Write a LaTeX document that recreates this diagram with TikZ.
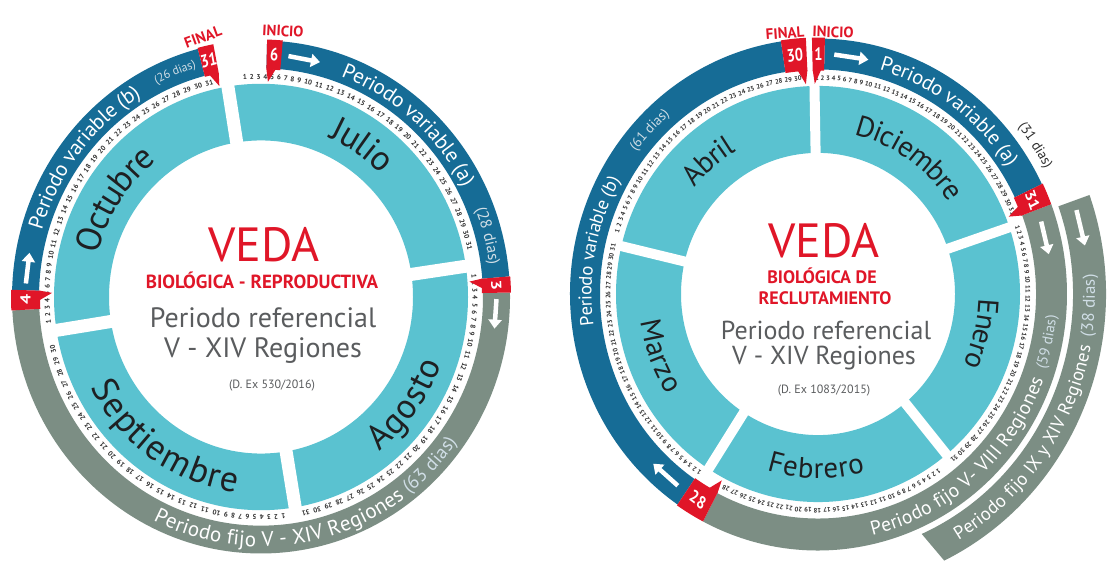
\documentclass[tikz,border=0pt]{standalone}
\usepackage{fontspec}
\setmainfont{PT Sans}
\usetikzlibrary{decorations.text,arrows.meta}
\definecolor{turq}{RGB}{90,194,208}
\definecolor{bandblue}{RGB}{22,108,150}
\definecolor{bandgray}{RGB}{124,142,132}
\definecolor{vred}{RGB}{224,22,40}
\definecolor{txtgray}{RGB}{90,92,94}
\definecolor{monthtxt}{RGB}{30,32,34}
\definecolor{numtxt}{RGB}{45,45,45}
\definecolor{dias}{RGB}{208,222,230}
\tikzset{
 daynum/.style={font=\fontsize{7}{7}\selectfont\bfseries, text=numtxt, inner sep=0pt},
 mknum/.style={font=\fontsize{18}{18}\selectfont\bfseries, text=white, inner sep=0pt, xscale=0.8},
 warrow/.style={white, line width=4.5pt, -{Triangle[length=9pt,width=13pt]}},
 lbl/.style={font=\fontsize{15}{15}\selectfont\bfseries, text=vred, inner sep=0pt},
 bigred/.style={font=\fontsize{48}{48}\selectfont, text=vred, inner sep=0pt},
 subred/.style={font=\fontsize{19}{19}\selectfont\bfseries, text=vred, inner sep=0pt},
 refgray/.style={font=\fontsize{28}{28}\selectfont, text=txtgray, inner sep=0pt},
 decgray/.style={font=\fontsize{12}{12}\selectfont, text=txtgray, inner sep=0pt},
}
\newcommand{\ringseg}[5]{\fill[#1] (#2:#4) arc[start angle=#2, end angle=#3, radius=#4] -- (#3:#5) arc[start angle=#3, end angle=#2, radius=#5] -- cycle;}
\newcommand{\mkbox}[4]{\fill[vred] (#1:#3) -- (#1:#4) arc[start angle=#1, end angle=#2, radius=#4] -- (#2:#3) arc[start angle=#2, end angle=#1, radius=#3] -- cycle;}
\newcommand{\mktri}[5]{\fill[vred] (#1:#4) -- (#2:#4) -- (#3:#5) -- cycle;}
\newcommand{\daynums}[5]{%
 \pgfmathsetmacro{\dW}{((#1)-(#2))/(14+((#3)-10)*2.5)}%
 \foreach \d in {1,...,#3}{%
   \pgfmathsetmacro{\dA}{(#1)-((\d<10) ? ((\d-1)*1.5) : (14+(\d-10)*2.5))*\dW}%
   \node[daynum, rotate=\dA-90] (#5\d) at (\dA:#4) {\d};
 }}
\newcommand{\bandtext}[5]{\path[decorate, decoration={text along path, #1, text={#5}}] (#2:#4) arc[start angle=#2, end angle=#3, radius=#4];}
\begin{document}
\begin{tikzpicture}[x=1pt,y=1pt]
\useasboundingbox (0,0) rectangle (1113,565);
\fill[white] (0,0) rectangle (1113,565);

%%%%%%%%%%%%%%%% LEFT CIRCLE
\begin{scope}[shift={(261,268)}, y=1.03pt]
\fill[turq, even odd rule] (0:207) arc[start angle=0, end angle=360, radius=207] -- cycle (0:152) arc[start angle=0, end angle=360, radius=152] -- cycle;
\foreach \g in {99.2,8.3,-80.5,189} \draw[white, line width=13pt] (\g:140) -- (\g:209);
\ringseg{bandblue}{88.6}{4.6}{222}{249}
\ringseg{bandgray}{1}{-177}{222}{249}
\ringseg{bandblue}{178.4}{104.7}{222}{249}
\daynums{94.3}{13.4}{31}{214}{jul}
\daynums{5.4}{-77.9}{31}{214}{ago}
\daynums{-84}{-166.3}{30}{214}{sep}
\daynums{186.5}{104}{31}{214}{oct}
\mkbox{88.6}{85}{221}{250} \mktri{88.6}{86.2}{88.1}{221.5}{209}
\node[mknum, rotate=-3.2] (m6) at (86.8:235.5) {6};
\mkbox{104.7}{101}{221}{250} \mktri{101}{103.4}{101.5}{221.5}{209}
\node[mknum, rotate=12.85] (m31L) at (102.85:235.5) {31};
\mkbox{4.6}{1}{221}{250} \mktri{4.6}{2.2}{4.1}{221.5}{209}
\node[mknum, rotate=-87.2] (m3) at (2.8:235.5) {3};
\mkbox{183}{178.4}{221}{250} \mktri{178.4}{180.8}{178.9}{221.5}{209}
\node[mknum, rotate=90.7] (m4) at (180.7:235.5) {4};
\draw[warrow] (83.3:235.5) -- (75.5:235.5);
\draw[warrow] (-0.5:235.5) -- (-7.5:235.5);
\draw[warrow] (176.8:235.5) -- (169.5:235.5);
\bandtext{text color=white, raise=-7pt}{69.5}{0}{235.5}{|\fontsize{21}{21}\selectfont|Periodo variable (a)}
\bandtext{text color=dias, raise=-5pt}{21.5}{-20}{235.5}{|\fontsize{16}{16}\selectfont|(28 dias)}
\bandtext{text color=white, raise=-7pt}{163.5}{90}{235.5}{|\fontsize{21}{21}\selectfont|Periodo variable (b)}
\bandtext{text color=dias, raise=-4pt}{116.8}{80}{235.5}{|\fontsize{12}{12}\selectfont|(26 dias)}
\bandtext{text color=white, raise=-7pt}{-116.4}{-20}{235.5}{|\fontsize{21}{21}\selectfont|Periodo fijo V - XIV Regiones}
\bandtext{text color=dias, raise=-6pt}{-52.3}{0}{235.5}{|\fontsize{19}{19}\selectfont|(63 dias)}
\bandtext{text align=center, text color=monthtxt, raise=-11.5pt}{95.8}{15.8}{180}{|\fontsize{35}{35}\selectfont|Julio}
\bandtext{text align=center, text color=monthtxt, raise=-11.5pt}{196.6}{96.6}{180}{|\fontsize{35}{35}\selectfont|Octubre}
\bandtext{text align=center, text color=monthtxt, raise=-11.5pt}{-184.6}{-64.6}{180}{|\fontsize{36}{36}\selectfont|Septiembre}
\bandtext{text align=center, text color=monthtxt, raise=-11.5pt}{-86.3}{13.7}{180}{|\fontsize{35}{35}\selectfont|Agosto}
\end{scope}

\node[lbl, rotate=20] (finL) at (203,528) {FINAL};
\node[lbl, rotate=-3] (iniL) at (283,534) {INICIO};
\node[bigred] (vedaL) at (264,320) {VEDA};
\node[subred] (bioL) at (262,285) {BIOLÓGICA - REPRODUCTIVA};
\node[refgray] (refL) at (263,247) {Periodo referencial};
\node[refgray] (regL) at (263,214) {V - XIV Regiones};
\node[decgray] (decL) at (272,179) {(D. Ex 530/2016)};

%%%%%%%%%%%%%%%% RIGHT CIRCLE
\begin{scope}[shift={(818,271)}, y=1.03pt, daynum/.style={font=\fontsize{6.5}{6.5}\selectfont\bfseries, text=numtxt, inner sep=0pt}]
\fill[turq, even odd rule] (0:202) arc[start angle=0, end angle=360, radius=202] -- cycle (0:137) arc[start angle=0, end angle=360, radius=137] -- cycle;
\foreach \g in {91,18.7,-50.5,-122.8,166.7} \draw[white, line width=10pt] (\g:125) -- (\g:205);
\ringseg{bandblue}{235.5}{98.6}{218}{248}
\ringseg{bandblue}{88.4}{25.5}{218}{248}
\ringseg{bandgray}{20.5}{-117.5}{218}{249}
\fill[bandgray] (19.5:255) arc[start angle=19.5, end angle=-66, radius=255] -- (-64:288) arc[start angle=-64, end angle=19.5, radius=288] -- cycle;
\daynums{90.3}{22.5}{31}{210}{dic}
\daynums{18}{-49.5}{31}{210}{ene}
\daynums{-55}{-116}{28}{210}{feb}
\daynums{-124.5}{-192.5}{31}{210}{mar}
\daynums{163}{95.5}{30}{210}{abr}
\mkbox{98.6}{92.8}{217}{249} \mktri{92.8}{95.3}{93.4}{217.5}{204}
\node[mknum, rotate=5.7] (m30) at (95.7:233) {30};
\mkbox{91.4}{88.4}{217}{249} \mktri{91.4}{89.2}{90.9}{217.5}{204}
\node[mknum, rotate=0] (m1) at (89.9:233) {1};
\mkbox{25.5}{20.5}{217}{249} \mktri{20.5}{23}{21.5}{217.5}{205}
\node[mknum, rotate=-67] (m31R) at (23:233) {31};
\mkbox{-117.5}{-124.5}{217}{249} \mktri{-117.5}{-120}{-118}{217.5}{205}
\node[mknum, rotate=-31] (m28) at (-121:233) {28};
\draw[warrow] (86:233) -- (77.5:233);
\draw[warrow] (17.5:234) -- (9.5:234);
\draw[warrow] (17.5:271) -- (10:271);
\draw[warrow] (-127:233) -- (-135:233);
\bandtext{text color=white, raise=-7pt}{74.2}{0}{233}{|\fontsize{20.5}{20.5}\selectfont|Periodo variable (a)}
\bandtext{text color=numtxt, raise=-4.5pt}{39}{0}{262}{|\fontsize{14}{14}\selectfont|(31 dias)}
\bandtext{text color=white, raise=-6.5pt}{187.8}{120}{233}{|\fontsize{18.5}{18.5}\selectfont|Periodo variable (b)}
\bandtext{text color=dias, raise=-4.5pt}{142.8}{100}{233}{|\fontsize{14}{14}\selectfont|(61 dias)}
\bandtext{text color=white, raise=-6.5pt}{-77}{0}{234}{|\fontsize{19.5}{19.5}\selectfont|Periodo fijo V- VIII Regiones}
\bandtext{text color=dias, raise=-5pt}{-18}{20}{234}{|\fontsize{15}{15}\selectfont|(59 dias)}
\bandtext{text color=white, raise=-6.5pt}{-59.6}{10}{271}{|\fontsize{18.5}{18.5}\selectfont|Periodo fijo IX y XIV Regiones}
\bandtext{text color=dias, raise=-6pt}{-8.7}{25}{271}{|\fontsize{17}{17}\selectfont|(38 dias)}
\bandtext{text align=center, text color=monthtxt, raise=-9.5pt}{105.8}{5.8}{168}{|\fontsize{29}{29}\selectfont|Diciembre}
\bandtext{text align=center, text color=monthtxt, raise=-9.5pt}{170}{90}{170}{|\fontsize{29}{29}\selectfont|Abril}
\bandtext{text align=center, text color=monthtxt, raise=-9.5pt}{26.5}{-53.5}{170}{|\fontsize{29}{29}\selectfont|Enero}
\bandtext{text align=center, text color=monthtxt, raise=-9.5pt}{-140.7}{-40.7}{170}{|\fontsize{29}{29}\selectfont|Febrero}
\bandtext{text align=center, text color=monthtxt, raise=-9.5pt}{-209}{-109}{170}{|\fontsize{29}{29}\selectfont|Marzo}
\end{scope}

\node[lbl, rotate=4] (finR) at (785,532) {FINAL};
\node[lbl, rotate=-2] (iniR) at (833,533) {INICIO};
\node[bigred] (vedaR) at (824,324) {VEDA};
\node[subred, font=\fontsize{18}{18}\selectfont\bfseries] (bioR) at (822,289) {BIOLÓGICA DE};
\node[subred, font=\fontsize{18}{18}\selectfont\bfseries] (recR) at (825,267) {RECLUTAMIENTO};
\node[refgray, font=\fontsize{26}{26}\selectfont] (refR) at (826,235) {Periodo referencial};
\node[refgray, font=\fontsize{26}{26}\selectfont] (regR) at (824,207) {V - XIV Regiones};
\node[decgray] (decR) at (824,174) {(D. Ex 1083/2015)};
\end{tikzpicture}
\end{document}
